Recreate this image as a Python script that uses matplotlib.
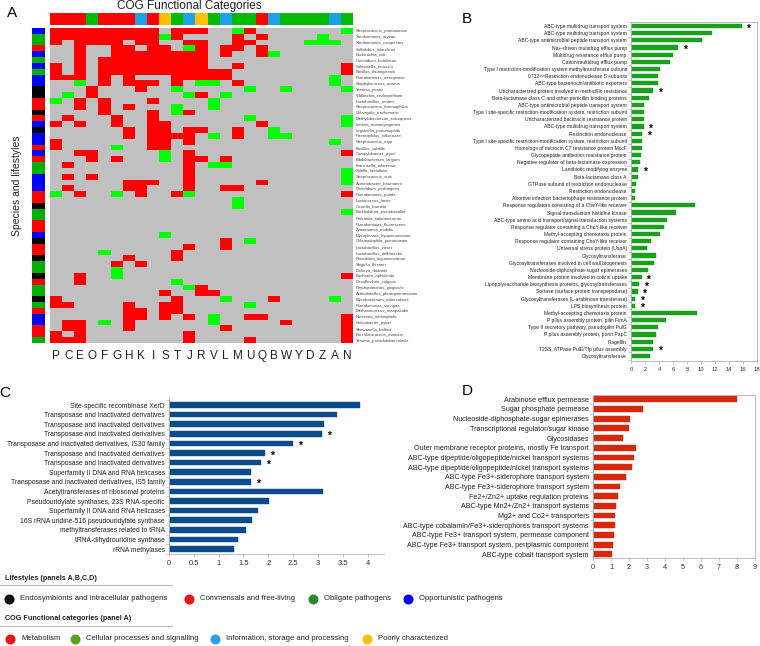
import numpy as np
import matplotlib
matplotlib.use('Agg')
import matplotlib.pyplot as plt
from matplotlib.colors import ListedColormap

plt.rcParams['font.family'] = ['Liberation Sans', 'DejaVu Sans']

# ---------------- data ----------------
# panel A: COG categories (columns) and species (rows)
cog_letters = ['P', 'C', 'E', 'O', 'F', 'G', 'H', 'K', 'I', 'S', 'T', 'J', 'R',
               'V', 'L', 'M', 'U', 'Q', 'B', 'W', 'Y', 'D', 'Z', 'A', 'N']
# m = metabolism, c = cellular processes, i = information, p = poorly characterized
cog_group = 'mmmcmmmimpcipcicc miccccic'.replace(' ', '')

species = ['Streptococcus_pneumoniae', 'Xanthomonas_oryzae', 'Xanthomonas_campestris',
           'Sulfolobus_islandicus', 'Escherichia_coli', 'Clostridium_botulinum',
           'Salmonella_enterica', 'Bacillus_thuringiensis', 'Pseudomonas_aeruginosa',
           'Staphylococcus_aureus', 'Yersinia_pestis', 'Wolbachia_endosymbiont',
           'Lactobacillus_reuteri', 'Streptococcus_thermophilus', 'Chlamydia_trachomatis',
           'Methylobacterium_extorquens', 'Listeria_monocytogenes', 'Legionella_pneumophila',
           'Haemophilus_influenzae', 'Streptococcus_equi', 'Bacillus_subtilis',
           'Campylobacter_jejuni', 'Bifidobacterium_longum', 'Francisella_tularensis',
           'Xylella_fastidiosa', 'Streptococcus_suis', 'Acinetobacter_baumannii',
           'Clostridium_perfringens', 'Pseudomonas_putida', 'Lactococcus_lactis',
           'Coxiella_burnetii', 'Burkholderia_pseudomallei', 'Ralstonia_solanacearum',
           'Pseudomonas_fluorescens', 'Zymomonas_mobilis', 'Mycoplasma_hyopneumoniae',
           'Chlamydophila_pneumoniae', 'Lactobacillus_casei', 'Lactobacillus_delbrueckii',
           'Rhizobium_leguminosarum', 'Shigella_flexneri', 'Dickeya_dadantii',
           'Buchnera_aphidicola', 'Desulfovibrio_vulgaris', 'Porphyromonas_gingivalis',
           'Actinobacillus_pleuropneumoniae', 'Mycobacterium_tuberculosis',
           'Pseudomonas_syringae', 'Methanococcus_maripaludis', 'Neisseria_meningitidis',
           'Helicobacter_pylori', 'Shewanella_baltica', 'Prochlorococcus_marinus',
           'Yersinia_pseudotuberculosis']

# k = endosymbiont/intracellular, r = commensal/free-living, g = obligate, b = opportunistic
lifestyle = 'bggrbgbgbbkkrrkrbkbbrbrggbbbrrkggrrbkrrkggkrggkgrbbrrg'

# . = absent, r = over-represented, g = under-represented
cells = [
    'rrrrrrrrr.rrr..gr.......g',
    'rrrrrrrrrgr....r.r....g..',
    'r.rrrr.rr..rr..rr....ggg.',
    '..r..rr.rr.gr.rr.r.......',
    '..r..rrrrrrrr.r..rg......',
    '..r.rrrrrrrrr............',
    'r.r.rrrrrrrrr..r........r',
    'r.r.rrrrrrrrrrr.........r',
    'rrr.r.r...rrrrr........g.',
    '..g.r.rrr.r.gg.r.......g.',
    '...r...r..g.....g..g....g',
    '.g.r.......gr.g..........',
    'g.r.r...r....g...........',
    '..r.r.r...g..g...........',
    '....r...r.gr.............',
    '.r...r..r.......g.......g',
    'r.r..r..rr.......r......g',
    '......r.rr.rr..r..g......',
    '......r.rrrr.g.r..gg.....',
    'r.......rr.r...........g.',
    'r....g..rr...............',
    '..rr.....g.r............r',
    '...r.r...g.rr.r..........',
    '.r.........r.gg..........',
    '...........r............g',
    '.r.r.......r............g',
    '......rrr..r.....r......g',
    '.r....rr...r..rr.........',
    'g.r..g.r..rg............r',
    '...............g.........',
    '...............g.........',
    '........................g',
    '.........................',
    '.........................',
    '.........................',
    '.........g...............',
    '..............r.g........',
    '...........r..r..........',
    '....g.....r..............',
    '......r...r..............',
    '.....r.r.................',
    '.....g...................',
    '..r..g..................r',
    '..r.......g..............',
    '...........gr............',
    '.........r..rr...........',
    'r.........r...g...r....g.',
    'rr....r..rr.....g........',
    '......rr.rr..............',
    '......rr.r.r.g..rr......r',
    '.rr.g.r......g.....r....r',
    '.rr...r.......r.........r',
    'r.r........r............r',
    'rrr........r....r.......r',
]

# panel B
b_labels = ['ABC-type multidrug transport system', 'ABC-type multidrug transport system',
            'ABC-type antimicrobial peptide transport system', 'Na+-driven multidrug efflux pump',
            'Multidrug resistance efflux pump', 'Cation/multidrug efflux pump',
            'Type I restriction-modification system methyltransferase subunit',
            '0732==Restriction endonuclease S subunits', 'ABC-type bacteriocin/antibiotic exporters',
            'Uncharacterized protein involved in methicillin resistance',
            'Beta-lactamase class C and other penicillin binding proteins',
            'ABC-type antimicrobial peptide transport system',
            'Type I site-specific restriction-modification system, restriction subunit',
            'Uncharacterized bacitracin resistance protein', 'ABC-type multidrug transport system',
            'Restriction endonuclease',
            'Type I site-specific restriction-modification system, restriction subunit',
            'Homologs of microcin C7 resistance protein MccF',
            'Glycopeptide antibiotics resistance protein',
            'Negative regulator of beta-lactamase expression', 'Lantibiotic modifying enzyme',
            'Beta-lactamase class A', 'GTPase subunit of restriction endonuclease',
            'Restriction endonuclease', 'Abortive infection bacteriophage resistance protein',
            'Response regulators consisting of a CheY-like receiver',
            'Signal transduction histidine kinase',
            'ABC-type amino acid transport/signal transduction systems',
            'Response regulator containing a CheY-like receiver',
            'Methyl-accepting chemotaxis protein',
            'Response regulator containing CheY-like receiver', 'Universal stress protein (UspA)',
            'Glycosyltransferase', 'Glycosyltransferases involved in cell wall biogenesis',
            'Nucleoside-diphosphate-sugar epimerases', 'Membrane protein involved in colicin uptake',
            'Lipopolysaccharide biosynthesis proteins, glycosyltransferases',
            'Sortase (surface protein transpeptidase)',
            'Glycosyltransferases (L-arabinose transferase)', 'LPS biosynthesis protein',
            'Methyl-accepting chemotaxis protein', 'P pilus assembly protein, pilin FimA',
            'Type II secretory pathway, pseudopilin PulG', 'P pilus assembly protein, porin PapC',
            'Flagellin', 'T2SS, ATPase PulE/Tfp pilus assembly', 'Glycosyltransferase']
b_values = [15.8, 11.6, 10.1, 6.7, 6.0, 5.6, 4.2, 3.8, 3.8, 3.2, 2.5, 1.9, 1.85, 1.85, 1.8,
            1.6, 1.5, 1.5, 1.4, 1.3, 1.05, 0.95, 0.75, 0.55, 0.55,
            9.1, 6.4, 5.2, 4.7, 4.15, 2.9, 2.35,
            3.6, 3.25, 2.4, 1.5, 1.15, 0.95, 0.6, 0.6,
            9.4, 4.95, 3.8, 3.5, 3.2, 3.1, 2.7]
b_star = [0, 3, 9, 14, 15, 20, 35, 36, 37, 38, 39, 45]

# panel C
c_labels = ['Site-specific recombinase XerD', 'Transposase and inactivated derivatives',
            'Transposase and inactivated derivatives', 'Transposase and inactivated derivatives',
            'Transposase and inactivated derivatives, IS30 family',
            'Transposase and inactivated derivatives', 'Transposase and inactivated derivatives',
            'Superfamily II DNA and RNA helicases',
            'Transposase and inactivated derivatives, IS5 family',
            'Acetyltransferases of ribosomal proteins',
            'Pseudouridylate synthases, 23S RNA-specific', 'Superfamily II DNA and RNA helicases',
            '16S rRNA uridine-516 pseudouridylate synthase', 'methyltransferases related to tRNA',
            'tRNA-dihydrouridine synthase', 'rRNA methylases']
c_values = [3.84, 3.38, 3.12, 3.08, 2.5, 1.93, 1.85, 1.66, 1.66, 3.1, 2.02, 1.8, 1.68,
            1.55, 1.38, 1.3]
c_star = [3, 4, 5, 6, 8]

# panel D
d_labels = ['Arabinose efflux permease', 'Sugar phosphate permease',
            'Nucleoside-diphosphate-sugar epimerases', 'Transcriptional regulator/sugar kinase',
            'Glycosidases', 'Outer membrane receptor proteins, mostly Fe transport',
            'ABC-type dipeptide/oligopeptide/nickel transport systems',
            'ABC-type dipeptide/oligopeptide/nickel transport systems',
            'ABC-type Fe3+-siderophore transport system', 'ABC-type Fe3+-siderophore transport system',
            'Fe2+/Zn2+ uptake regulation proteins', 'ABC-type Mn2+/Zn2+ transport systems',
            'Mg2+ and Co2+ transporters', 'ABC-type cobalamin/Fe3+-siderophores transport systems',
            'ABC-type Fe3+ transport system, permease component',
            'ABC-type Fe3+ transport system, periplasmic component',
            'ABC-type cobalt transport system']
d_values = [8.0, 2.75, 2.05, 1.98, 1.65, 2.4, 2.25, 2.15, 1.85, 1.5, 1.4, 1.3, 1.2, 1.2,
            1.15, 1.1, 1.05]

life_names = ['Endosymbionts and intracellular pathogens', 'Commensals and free-living',
              'Obligate pathogens', 'Opportunistic pathogens']
cog_names = ['Metabolism', 'Cellular processes and signalling',
             'Information, storage and processing', 'Poorly characterized']

# ---------------- styles ----------------
W, H = 760, 646
life_col = {'k': '#000000', 'r': '#ff0000', 'g': '#00b000', 'b': '#0000ff'}
cog_col = {'m': '#ff0000', 'c': '#00bb00', 'i': '#1ea0e6', 'p': '#ffc000'}
cell_col = ['#c0c0c0', '#ff0000', '#00ff00']
legend_life_col = ['#000000', '#ee1111', '#2a8a2a', '#0000ee']
legend_cog_col = ['#ee1111', '#5aa020', '#2aa0e0', '#f8c010']
frame_col = '#b0b0b0'


def px_axes(fig, x0, y0, x1, y1):
    return fig.add_axes([x0 / W, 1 - y1 / H, (x1 - x0) / W, (y1 - y0) / H])


fig = plt.figure(figsize=(W / 100, H / 100), dpi=100)

# ---------------- panel A ----------------
codes = {'.': 0, 'r': 1, 'g': 2}
mat = np.array([[codes[ch] for ch in row] for row in cells])

ax = px_axes(fig, 50, 28, 353, 343)
ax.imshow(mat, cmap=ListedColormap(cell_col), vmin=0, vmax=2, aspect='auto',
          interpolation='nearest')
ax.set_xticks(range(len(cog_letters)))
ax.set_xticklabels(cog_letters, fontsize=8.5, color='#222222')
ax.set_yticks(range(len(species)))
ax.set_yticklabels(species, fontsize=3.1, color='#444444')
ax.yaxis.tick_right()
ax.tick_params(length=0, pad=2)
ax.tick_params(axis='x', pad=5)
for s in ax.spines.values():
    s.set_visible(False)

# COG group bar on top
top_keys = list('mcip')
top = np.array([[top_keys.index(g) for g in cog_group]])
axt = px_axes(fig, 50, 13, 353, 25)
axt.imshow(top, cmap=ListedColormap([cog_col[k] for k in top_keys]), vmin=0, vmax=3,
           aspect='auto', interpolation='nearest')
axt.axis('off')

# lifestyle bar on the left
life_keys = list('krgb')
left = np.array([[life_keys.index(c)] for c in lifestyle])
axl = px_axes(fig, 32, 28, 45, 343)
axl.imshow(left, cmap=ListedColormap([life_col[k] for k in life_keys]), vmin=0, vmax=3,
           aspect='auto', interpolation='nearest')
axl.axis('off')

fig.text(189 / W, 1 - 6 / H, 'COG Functional Categories', fontsize=8.5, ha='center',
         va='center', color='#222222')
fig.text(17 / W, 1 - 186 / H, 'Species and lifestyles', fontsize=7.5, rotation=90,
         ha='center', va='center', color='#222222')


def bar_panel(ax, labels, values, color, height, lab_size, tick_size, stars=()):
    y = np.arange(len(labels))
    ax.barh(y, values, height=height, color=color, edgecolor=color, linewidth=0.3)
    ax.set_yticks(y)
    ax.set_yticklabels(labels, fontsize=lab_size, color='#222222')
    ax.set_yticks(np.arange(len(labels) + 1) - 0.5, minor=True)
    ax.tick_params(axis='y', which='major', length=0, pad=3)
    ax.tick_params(axis='y', which='minor', length=2.5, width=0.5, color=frame_col)
    ax.tick_params(axis='x', labelsize=tick_size, length=2, width=0.5, color=frame_col,
                   labelcolor='#333333', pad=2)
    for s in ax.spines.values():
        s.set_color(frame_col)
        s.set_linewidth(0.6)
    for i in stars:
        ax.annotate('*', (values[i], y[i]), xytext=(3.5, -1.8), textcoords='offset points',
                    fontsize=7.5, fontweight='bold', va='center', ha='left')


# ---------------- panel B ----------------
axb = px_axes(fig, 631, 22, 757, 361)
bar_panel(axb, b_labels, b_values, '#1c9f1c', 0.58, 3.6, 4.2, b_star)
axb.set_xlim(0, 18)
axb.set_xticks(range(0, 19, 2))
axb.set_ylim(len(b_labels) - 1 + 0.7, -0.56)

# ---------------- panel C ----------------
axc = px_axes(fig, 169, 398, 384, 554)
bar_panel(axc, c_labels, c_values, '#0c4a8a', 0.6, 4.9, 5.5, c_star)
axc.set_xlim(0, 4.33)
axc.set_xticks(np.arange(0, 4.01, 0.5))
axc.set_xticklabels(['{:g}'.format(v) for v in np.arange(0, 4.01, 0.5)])
axc.set_ylim(len(c_labels) - 1 + 0.52, -0.73)
axc.spines['top'].set_visible(False)
axc.spines['right'].set_visible(False)

# ---------------- panel D ----------------
axd = px_axes(fig, 593, 395, 755, 558)
bar_panel(axd, d_labels, d_values, '#d5290c', 0.6, 5.1, 5.2)
axd.set_xlim(0, 9)
axd.set_xticks(range(10))
axd.set_ylim(len(d_labels) - 1 + 0.38, -0.44)

# panel letters
for letter, x, y in [('A', 12, 13), ('B', 467, 19), ('C', 5, 393), ('D', 467, 391)]:
    fig.text(x / W, 1 - y / H, letter, fontsize=11, ha='center', va='center')

# ---------------- legends ----------------
axg = px_axes(fig, 0, 565, 760, 646)
axg.set_xlim(0, W)
axg.set_ylim(646, 565)
axg.axis('off')

life_x = [9, 189, 313, 408]
cog_x = [10, 75, 215, 367]

axg.text(5, 578, 'Lifestyles (panels A,B,C,D)', fontsize=5.2, fontweight='bold',
         va='center', color='#222222')
axg.plot([0, 172], [585, 585], color='#bbbbbb', lw=0.8)
for x, name, col in zip(life_x, life_names, legend_life_col):
    axg.plot(x, 599, 'o', ms=6.2, color=col)
    axg.text(x + 11, 599, name, fontsize=5.5, va='center', color='#222222')

axg.text(5, 619, 'COG Functional categories (panel A)', fontsize=5.2, fontweight='bold',
         va='center', color='#222222')
axg.plot([0, 172], [626, 626], color='#bbbbbb', lw=0.8)
for x, name, col in zip(cog_x, cog_names, legend_cog_col):
    axg.plot(x, 639, 'o', ms=6.2, color=col)
    axg.text(x + 11, 639, name, fontsize=5.5, va='center', color='#222222')

fig.savefig('out.png', dpi=100)
